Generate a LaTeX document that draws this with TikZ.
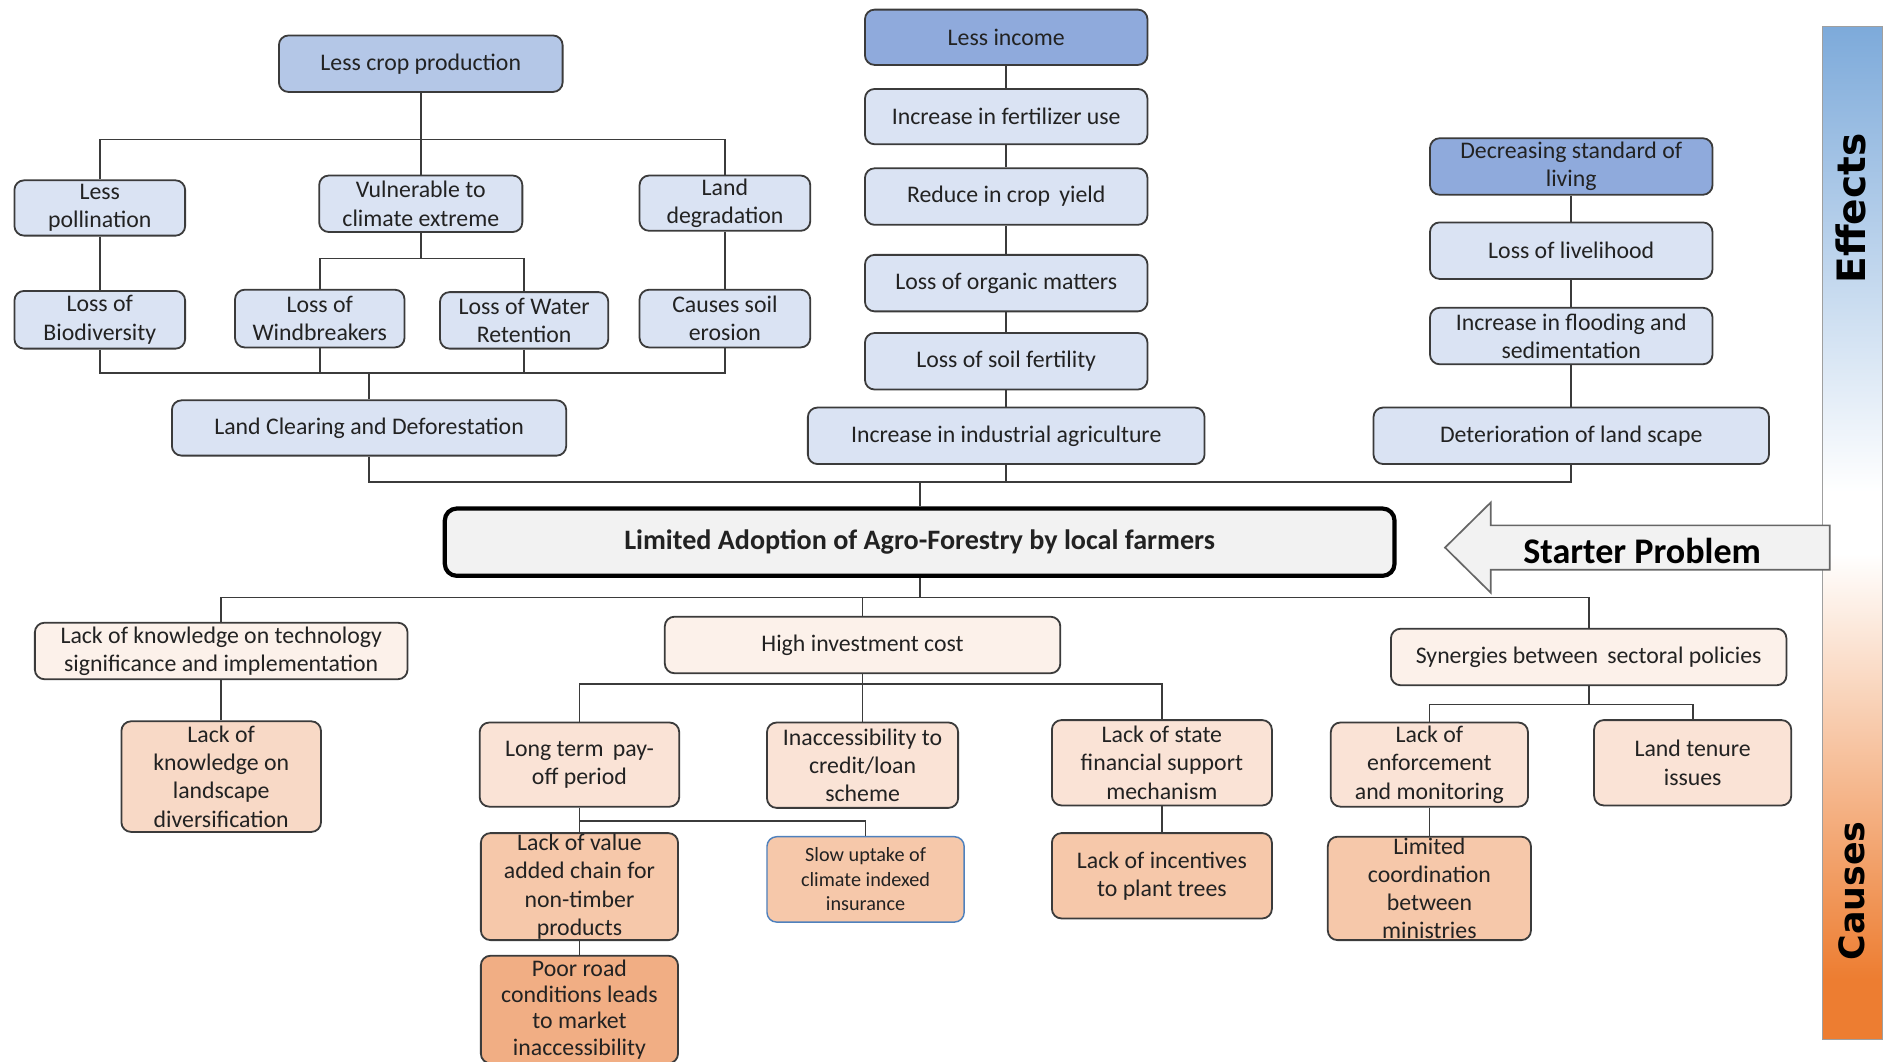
\documentclass[tikz,border=0pt]{standalone}
\usepackage{fontspec}
\setmainfont{Carlito}
\newfontfamily\scalefont{DejaVu Sans}

% palette
\definecolor{effL}{HTML}{DAE3F3}
\definecolor{effM}{HTML}{B4C7E7}
\definecolor{effD}{HTML}{8FAADC}
\definecolor{midF}{HTML}{F2F2F2}
\definecolor{cauA}{HTML}{FCF1EA}
\definecolor{cauB}{HTML}{FAE3D6}
\definecolor{cauBb}{HTML}{F8D9C6}
\definecolor{cauC}{HTML}{F6C8AA}
\definecolor{cauD}{HTML}{F1AE84}
\definecolor{edgeC}{HTML}{3B3B3B}
\definecolor{inkC}{HTML}{222222}
\definecolor{barBlue}{HTML}{7DAADA}
\definecolor{barOrange}{HTML}{ED7D31}
\definecolor{insEdge}{HTML}{4F81BD}

% side scale: orange at the bottom, white in the middle, blue on top
\pgfdeclareverticalshading{sidebar}{100bp}{color(0bp)=(barOrange); color(28bp)=(barOrange); color(49bp)=(white); color(52bp)=(white); color(75bp)=(barBlue); color(100bp)=(barBlue)}

\tikzset{
  box/.style={draw=edgeC, line width=1.5pt, rounded corners=8pt, align=center,
    inner sep=0pt, text=inkC, font=\fontsize{19.8}{23.5}\selectfont},
  sz/.style 2 args={minimum width=#1, minimum height=#2},
  effbox/.style={box, fill=effL},
  effmid/.style={box, fill=effM},
  effdark/.style={box, fill=effD},
  cauone/.style={box, fill=cauA},
  cautwo/.style={box, fill=cauB},
  cautwob/.style={box, fill=cauBb},
  cauthree/.style={box, fill=cauC},
  caufour/.style={box, fill=cauD},
  link/.style={draw=edgeC, line width=1.4pt},
  corebox/.style={draw=black, line width=3.5pt, rounded corners=10pt, fill=midF,
    align=center, inner sep=0pt, text=inkC, font=\fontsize{23.4}{27}\selectfont\bfseries},
  scalelabel/.style={rotate=90, text=black, inner sep=0pt},
}

\begin{document}
\begin{tikzpicture}[x=1pt,y=-1pt]
\useasboundingbox (0,0) rectangle (1568,883);
\fill[white] (0,0) rectangle (1568,883);
\clip (0,0) rectangle (1568,883);

% ---------- effects: left branch ----------
\node[effmid, sz={236}{47}] (lcp) at (350,53) {Less crop production};
\node[effbox, sz={142}{46}] (lpol) at (83,173) {Less\\pollination};
\node[effbox, sz={169}{47}] (vce) at (350,169.5) {Vulnerable to\\climate extreme};
\node[effbox, sz={142}{46}] (ldg) at (603,169) {Land\\degradation};
\node[effbox, sz={142}{48}] (lbd) at (83,266) {Loss of\\Biodiversity};
\node[effbox, sz={141}{48}] (lwb) at (266,265) {Loss of\\Windbreakers};
\node[effbox, sz={140}{47}] (lwr) at (436,266.5) {Loss of Water\\Retention};
\node[effbox, sz={142}{48}] (cse) at (603,265) {Causes soil\\erosion};
\node[effbox, sz={328}{46}] (lcd) at (307,356) {Land Clearing and Deforestation};

% ---------- effects: middle chain ----------
\node[effdark, sz={235}{46}] (linc) at (837,31) {Less income};
\node[effbox, sz={235}{46}] (ifu) at (837,97) {Increase in fertilizer use};
\node[effbox, sz={235}{47}] (rcy) at (837,163.5) {Reduce in crop\, yield};
\node[effbox, sz={235}{47}] (lom) at (837,235.5) {Loss of organic matters};
\node[effbox, sz={235}{47}] (lsf) at (837,300.5) {Loss of soil fertility};
\node[effbox, sz={330}{47}] (iia) at (837,362.5) {Increase in industrial agriculture};

% ---------- effects: right chain ----------
\node[effdark, sz={235}{47}] (dsl) at (1307,138.5) {Decreasing standard of\\living};
\node[effbox, sz={235}{47}] (llh) at (1307,208.5) {Loss of livelihood};
\node[effbox, sz={235}{47}] (ifs) at (1307,279.5) {Increase in flooding and\\sedimentation};
\node[effbox, sz={329}{47}] (dls) at (1307,362.5) {Deterioration of land scape};

% ---------- core problem ----------
\node[corebox, minimum width=790, minimum height=56] (core) at (765,451)
  {Limited Adoption of Agro-Forestry by local farmers};

% ---------- causes ----------
\node[cauone, sz={310}{47}] (lkt) at (184,541.5) {Lack of knowledge on technology\\significance and implementation};
\node[cautwob, sz={166}{92}] (lkl) at (184,646) {Lack of\\knowledge on\\landscape\\diversification};
\node[cauone, sz={329}{47}] (hic) at (717.5,536.5) {High investment cost};
\node[cautwo, sz={166}{70}] (ltp) at (482,636) {Long term\, pay-\\off period};
\node[cautwo, sz={159}{71}] (icl) at (717.5,636.5) {Inaccessibility to\\credit/loan\\scheme};
\node[cautwo, sz={183}{71}] (lss) at (966.5,634.5) {Lack of state\\financial support\\mechanism};
\node[cauthree, sz={164}{89}] (lva) at (482,737.5) {Lack of value\\added chain for\\non-timber\\products};
\node[cauthree, sz={164}{71}, draw=insEdge, line width=1.2pt,
  font=\fontsize{16.8}{20.5}\selectfont] (sut) at (720,731.5) {Slow uptake of\\climate indexed\\insurance};
\node[caufour, sz={164}{89.5}, font=\fontsize{19.8}{21.8}\selectfont] (prc) at (482,839.75)
  {Poor road\\conditions leads\\to market\\inaccessibility};
\node[cauthree, sz={183}{71}] (lip) at (966.5,728.5) {Lack of incentives\\to plant trees};
\node[cauone, sz={329}{47}] (sbs) at (1321.5,546.5) {Synergies between\, sectoral policies};
\node[cautwo, sz={164}{70}] (lem) at (1189,636) {Lack of\\enforcement\\and monitoring};
\node[cautwo, sz={164}{71}] (ltn) at (1408,634.5) {Land tenure\\issues};
\node[cauthree, sz={169}{86}] (lcm) at (1189,739) {Limited\\coordination\\between\\ministries};

% ---------- bus levels ----------
\coordinate (busA) at (0,116);
\coordinate (busB) at (0,215);
\coordinate (busC) at (0,310);
\coordinate (busD) at (0,401);
\coordinate (busE) at (0,497);
\coordinate (busF) at (0,569);
\coordinate (busG) at (0,683);
\coordinate (busH) at (0,586);

% ---------- connectors: effects ----------
\draw[link] (lpol.north) |- (ldg.north |- busA) -- (ldg.north);
\draw[link] (lcp) -- (vce);
\draw[link] (lpol) -- (lbd);
\draw[link] (ldg) -- (cse);
\draw[link] (lwb.north) |- (lwr.north |- busB) -- (lwr.north);
\draw[link] (vce.south) -- (vce.south |- busB);
\draw[link] (lbd.south) |- (cse.south |- busC) -- (cse.south);
\draw[link] (lwb.south) -- (lwb.south |- busC);
\draw[link] (lwr.south) -- (lwr.south |- busC);
\draw[link] (lcd.north) -- (lcd.north |- busC);
\draw[link] (linc) -- (ifu) -- (rcy) -- (lom) -- (lsf) -- (iia);
\draw[link] (dsl) -- (llh) -- (ifs) -- (dls);
\draw[link] (lcd.south) |- (dls.south |- busD) -- (dls.south);
\draw[link] (iia.south) -- (iia.south |- busD);
\draw[link] (core.north) -- (core.north |- busD);

% ---------- connectors: causes ----------
\draw[link] (lkt.north) |- (sbs.north |- busE) -- (sbs.north);
\draw[link] (core.south) -- (core.south |- busE);
\draw[link] (hic.north) -- (hic.north |- busE);
\draw[link] (lkt) -- (lkl);
\draw[link] (ltp.north) |- (lss.north |- busF) -- (lss.north);
\draw[link] (hic.south) -- (icl.north);
\draw[link] (ltp.south) |- (sut.north |- busG) -- (sut.north);
\draw[link] (ltp.south) -- (lva.north);
\draw[link] (lva) -- (prc);
\draw[link] (lss) -- (lip);
\draw[link] (lem.north) |- (ltn.north |- busH) -- (ltn.north);
\draw[link] (sbs.south) -- (sbs.south |- busH);
\draw[link] (lem) -- (lcm);

% ---------- side scale ----------
\path[shading=sidebar, draw=gray!75, line width=0.8pt] (1516,22) rectangle (1566,865);
\node[scalelabel, font=\fontsize{32.5}{34}\selectfont\scalefont\bfseries] (efflab) at (1540,173.5) {Effects};
\node[scalelabel, font=\fontsize{29}{31}\selectfont\scalefont\bfseries] (caulab) at (1540,741) {Causes};

% ---------- starter arrow ----------
\draw[draw=gray!80!black, line width=1.4pt, fill=midF, line join=miter]
  (1202,455.5) -- (1240,418) -- (1240,437) -- (1522,437) -- (1522,474) -- (1240,474) -- (1240,493) -- cycle;
\node[font=\fontsize{30}{33}\selectfont\bfseries, text=black] (starter) at (1366,458) {Starter Problem};
\end{tikzpicture}
\end{document}
